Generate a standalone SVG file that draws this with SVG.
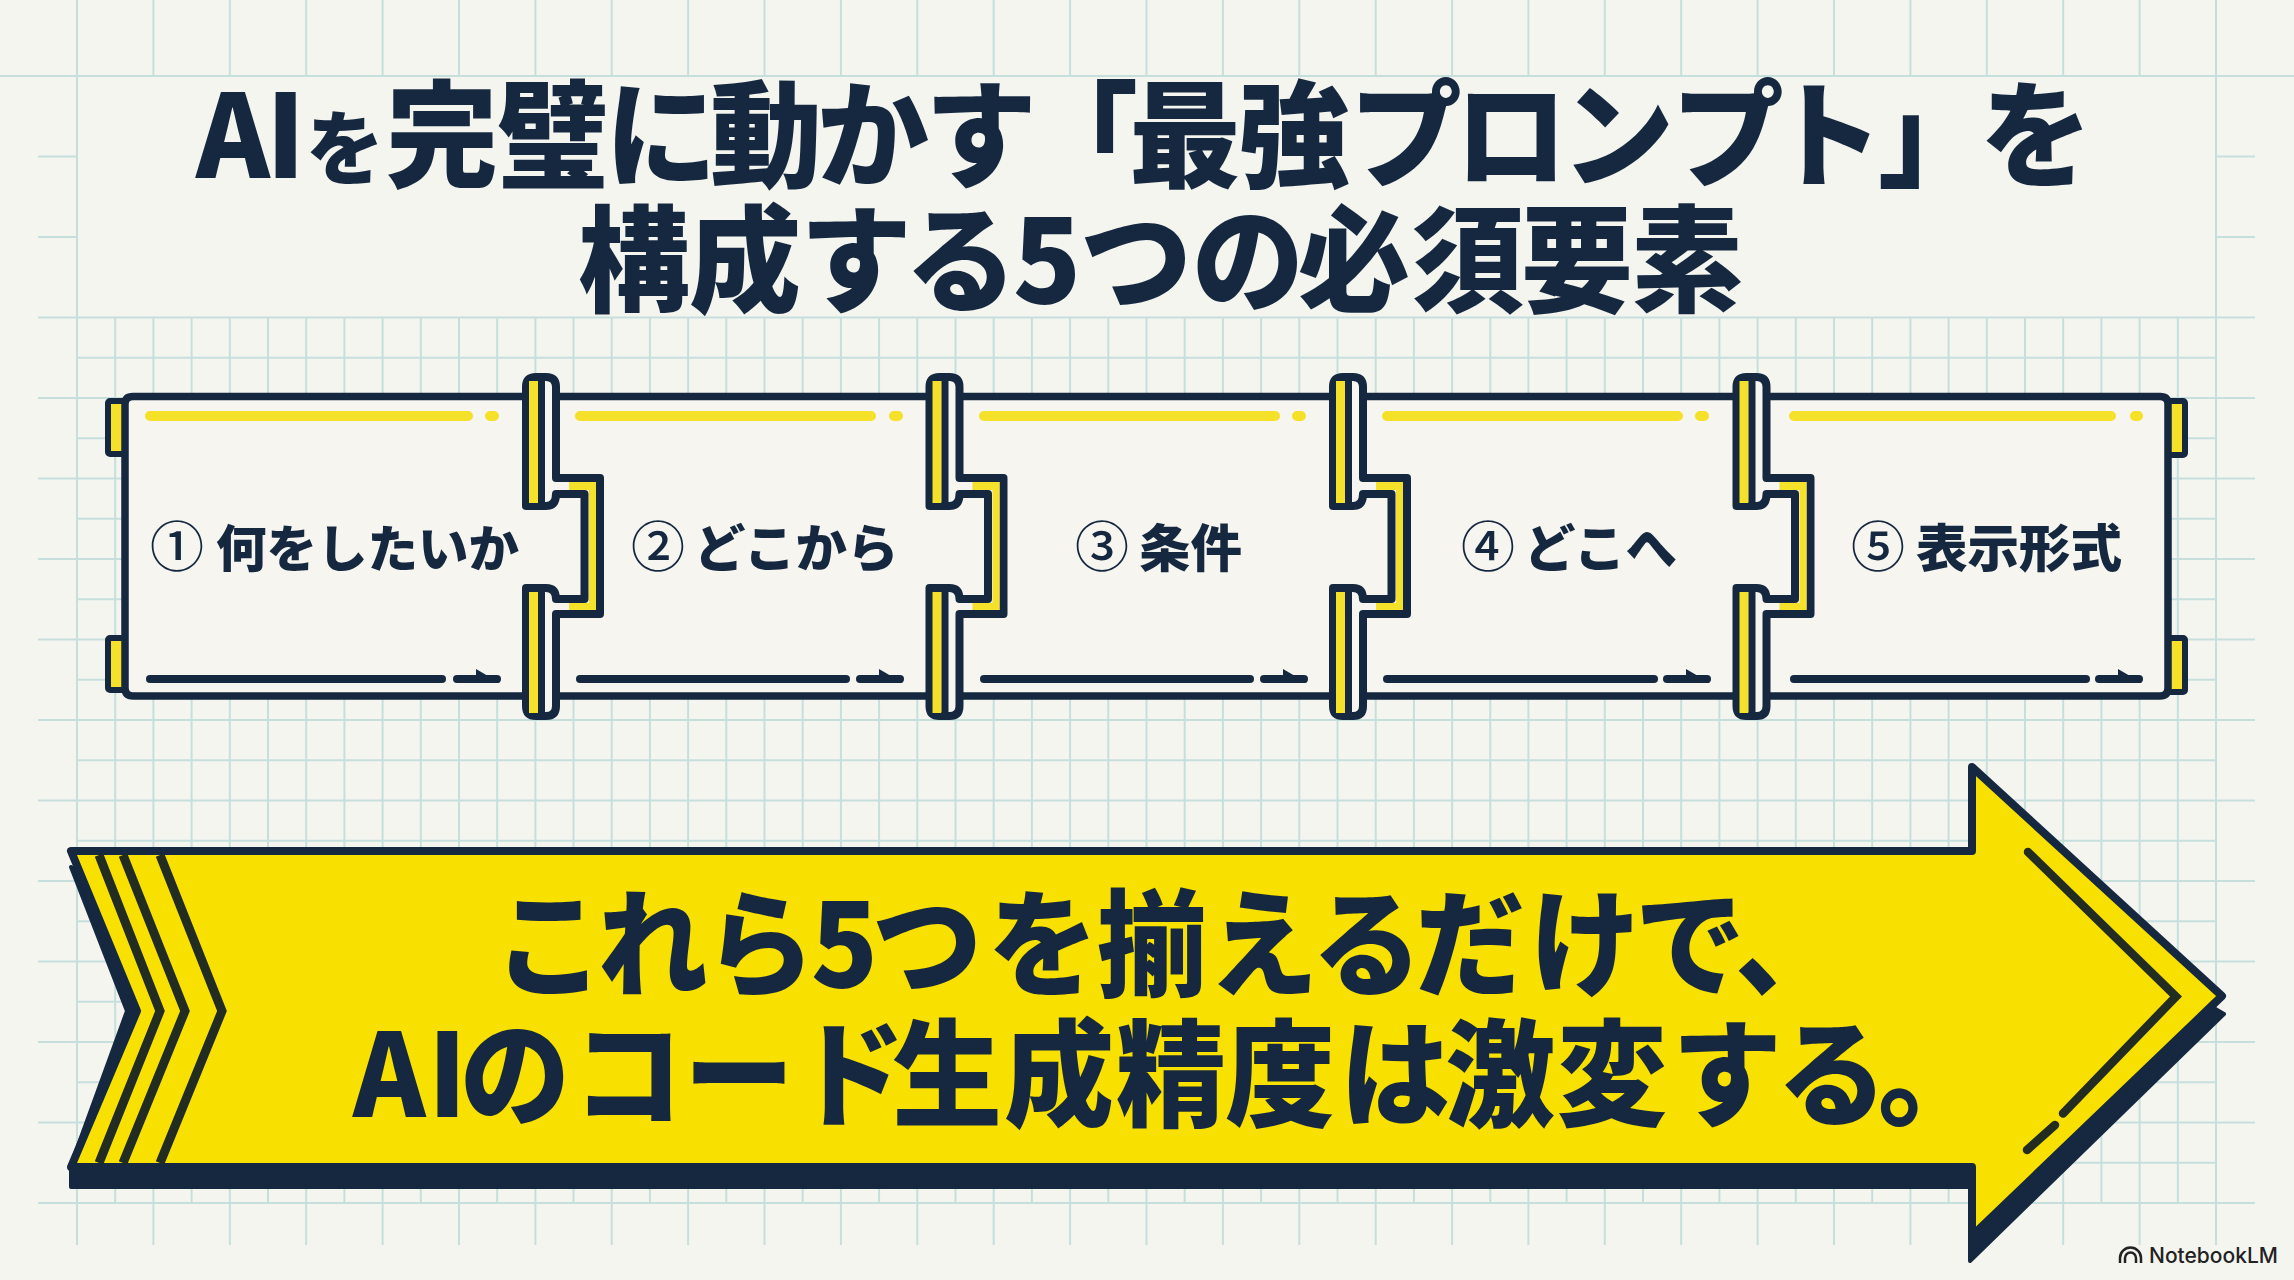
<svg xmlns="http://www.w3.org/2000/svg" xmlns:xlink="http://www.w3.org/1999/xlink" width="2294" height="1280" viewBox="0 0 2294 1280">
<style>
text{font-family:"Noto Sans CJK JP","Noto Sans CJK SC",sans-serif;fill:#15283f;font-weight:900}
.grid{fill:none;stroke:#c6dfdd;stroke-width:2}
.body{fill:#f6f5f0;stroke:none}
.edge{fill:none;stroke:#15283f;stroke-width:7.5;stroke-linecap:round;stroke-linejoin:round}
.tab{fill:#f5e02a;stroke:#15283f;stroke-width:6;stroke-linejoin:round}
.hi{fill:none;stroke:#f5e02a;stroke-width:10;stroke-linecap:round}
.lo{fill:none;stroke:#15283f;stroke-width:8;stroke-linecap:round}
.num{font-weight:500;font-size:54px}
.lab{font-size:51.500px}
.ink{fill:none;stroke:#222c20;stroke-width:9;stroke-linejoin:miter}
.inkr{fill:none;stroke:#222c20;stroke-width:8.5;stroke-linecap:round;stroke-linejoin:miter}
</style>
<defs>
<g id="joint">
<path d="M526 506V387Q526 377 536 377H546Q556 377 556 387V478H600V614H556V706Q556 716 546 716H536Q526 716 526 706V588H546Q556 588 556 599H584.5V494H556Q556 506 546 506Z" fill="#f6f5f0" stroke="#15283f" stroke-width="8" stroke-linejoin="round"/>
<rect x="529" y="381" width="9" height="122" fill="#f5e02a"/>
<rect x="529" y="592" width="9" height="121" fill="#f5e02a"/>
<path d="M569 482H596V610H569V603H589V490H569Z" fill="#f5e02a"/>
<path d="M541.500 377V506M541.500 588V716" fill="none" stroke="#15283f" stroke-width="7"/>
</g>
<g id="arrowmark">
<path d="M457 679H497" class="lo"/>
<path d="M476 669L500 683H476Z" fill="#15283f"/>
</g>
</defs>
<rect width="2294" height="1280" fill="#f5f5f0"/>
<g id="grid" class="grid">
<path d="M0 76H2294M38 156.500H77M2216 156.500H2255M38 237H77M2216 237H2255M38 317.500H2255M77 357.750H2216M38 398H2255M77 438.250H2216M38 478.500H2255M77 518.750H2216M38 559H2255M77 599.250H2216M38 639.500H2255M77 679.750H2216M38 720H2255M77 760.250H2216M38 800.500H2255M77 840.750H2216M38 881H2255M77 921.250H2216M38 961.500H2255M77 1001.750H2216M38 1042H2255M77 1082.250H2216M38 1122.500H2255M77 1162.750H2216M38 1203H2255"/>
<path d="M77 0V1245M2216 0V1245M153.400 0V76M153.400 317V1245M229.800 0V76M229.800 317V1245M306.200 0V76M306.200 317V1245M382.600 0V76M382.600 317V1245M459 0V76M459 317V1245M535.400 0V76M535.400 317V1245M611.700 0V76M611.700 317V1245M688.100 0V76M688.100 317V1245M764.500 0V76M764.500 317V1245M840.900 0V76M840.900 317V1245M917.300 0V76M917.300 317V1245M993.700 0V76M993.700 317V1245M1070.100 0V76M1070.100 317V1245M1146.500 0V76M1146.500 317V1245M1222.900 0V76M1222.900 317V1245M1299.300 0V76M1299.300 317V1245M1375.700 0V76M1375.700 317V1245M1452.100 0V76M1452.100 317V1245M1528.400 0V76M1528.400 317V1245M1604.800 0V76M1604.800 317V1245M1681.200 0V76M1681.200 317V1245M1757.600 0V76M1757.600 317V1245M1834 0V76M1834 317V1245M1910.400 0V76M1910.400 317V1245M1986.800 0V76M1986.800 317V1245M2063.200 0V76M2063.200 317V1245M2139.600 0V76M2139.600 317V1245"/>
<path d="M115.200 317V1203M191.600 317V1203M268 317V1203M344.400 317V1203M420.800 317V1203M497.200 317V1203M573.500 317V1203M649.900 317V1203M726.300 317V1203M802.700 317V1203M879.100 317V1203M955.500 317V1203M1031.900 317V1203M1108.300 317V1203M1184.700 317V1203M1261.100 317V1203M1337.500 317V1203M1413.900 317V1203M1490.300 317V1203M1566.600 317V1203M1643 317V1203M1719.400 317V1203M1795.800 317V1203M1872.200 317V1203M1948.600 317V1203M2025 317V1203M2101.400 317V1203M2177.800 317V1203"/>
</g>
<g id="title">
<text font-size="112" transform="translate(0 -6) scale(1 1.033)"><tspan x="196 266" y="178">AI</tspan><tspan font-size="78" x="306" y="178">を</tspan><tspan x="386 497 605 710 817 925 1026 1129 1238 1350 1455 1562 1672 1771 1878 1980" y="178">完璧に動かす「最強プロンプト」を</tspan></text>
<text font-size="112" transform="translate(0 -10) scale(1 1.033)" x="578 689 800 905 1013 1080 1192 1298 1412 1521 1631" y="303">構成する5つの必須要素</text>
</g>
<g id="node-1">
<rect class="tab" x="108" y="401" width="17" height="53" rx="2"/>
<rect class="tab" x="108" y="638" width="17" height="52" rx="2"/>
<rect class="body" x="125" y="396" width="420" height="300"/>
<path class="edge" d="M545 396.500H133Q125 396.500 125 404V688Q125 696 133 696H545"/>
<path class="hi" d="M150 416H468M490 416H494"/>
<path class="lo" d="M150 679H442"/>
<use xlink:href="#arrowmark" href="#arrowmark"/>
<text y="567"><tspan class="num" x="150">①</tspan><tspan class="lab" x="216" style="font-size:50.500px">何をしたいか</tspan></text>
</g>
<g id="node-2">
<rect class="body" x="545" y="396" width="403" height="300"/>
<path class="edge" d="M545 396.500H948M545 696H948"/>
<path class="hi" d="M580 416H871M894 416H898"/>
<path class="lo" d="M580 679H846"/>
<use xlink:href="#arrowmark" href="#arrowmark" transform="translate(403 0)"/>
<text y="567"><tspan class="num" x="631">②</tspan><tspan class="lab" x="694">どこから</tspan></text>
</g>
<g id="node-3">
<rect class="body" x="948" y="396" width="404" height="300"/>
<path class="edge" d="M948 396.500H1352M948 696H1352"/>
<path class="hi" d="M984 416H1275M1297 416H1301"/>
<path class="lo" d="M984 679H1250"/>
<use xlink:href="#arrowmark" href="#arrowmark" transform="translate(807 0)"/>
<text y="567"><tspan class="num" x="1075">③</tspan><tspan class="lab" x="1139">条件</tspan></text>
</g>
<g id="node-4">
<rect class="body" x="1352" y="396" width="403" height="300"/>
<path class="edge" d="M1352 396.500H1755M1352 696H1755"/>
<path class="hi" d="M1387 416H1678M1700 416H1704"/>
<path class="lo" d="M1387 679H1654"/>
<use xlink:href="#arrowmark" href="#arrowmark" transform="translate(1210 0)"/>
<text y="567"><tspan class="num" x="1461">④</tspan><tspan class="lab" x="1524">どこへ</tspan></text>
</g>
<g id="node-5">
<rect class="tab" x="2168" y="401" width="17" height="54" rx="2"/>
<rect class="tab" x="2168" y="638" width="17" height="54" rx="2"/>
<rect class="body" x="1755" y="396" width="413" height="300"/>
<path class="edge" d="M1755 396.500H2160Q2168 396.500 2168 404V688Q2168 696 2160 696H1755"/>
<path class="hi" d="M1794 416H2111M2135 416H2138"/>
<path class="lo" d="M1794 679H2086"/>
<use xlink:href="#arrowmark" href="#arrowmark" transform="translate(1642 0)"/>
<text y="567"><tspan class="num" x="1851">⑤</tspan><tspan class="lab" x="1916">表示形式</tspan></text>
</g>
<g id="connectors">
<use xlink:href="#joint" href="#joint"/>
<use xlink:href="#joint" href="#joint" x="403.500"/>
<use xlink:href="#joint" href="#joint" x="807"/>
<use xlink:href="#joint" href="#joint" x="1210.500"/>
</g>
<g id="banner">
<path d="M71 867L127 1011L71 1165V1187H1970V1261L2224 1014L2200 1000L300 1000Z" fill="#15283f" stroke="#15283f" stroke-width="4" stroke-linejoin="round"/>
<path d="M71 851H1972V767L2222 996L1972 1236V1167H71L137 1011Z" fill="#f8e100" stroke="#15283f" stroke-width="8" stroke-linejoin="round"/>
<path class="ink" d="M99 855L160 1011L99 1163M123 855L185 1011L123 1163M160 855L222 1011L160 1163"/>
<path class="inkr" d="M2028 852L2176 996.500L2063 1113.500M2055 1125L2027 1150"/>
<text font-size="110" transform="translate(0 -47.250) scale(1 1.050)" x="494 598 705 811 872 988 1097 1208 1312 1415 1530 1635 1735" y="985">これら5つを揃えるだけで、</text>
<text font-size="110" transform="translate(0 -55.850) scale(1 1.050)" x="353 428 460 573 684 795 892 1004 1116 1225 1340 1445 1557 1672 1777 1878" y="1117">AIのコード生成精度は激変する。</text>
</g>
<g id="brand">
<path d="M2120 1263V1258A10.500 10.500 0 0 1 2141 1258V1263M2125 1263V1258A5.500 5.500 0 0 1 2136 1258V1263" fill="none" stroke="#222" stroke-width="2.500"/>
<text x="2149" y="1263" font-size="21" style="font-family:Inter,'Noto Sans',sans-serif;font-weight:500;fill:#222">NotebookLM</text>
</g>
</svg>
